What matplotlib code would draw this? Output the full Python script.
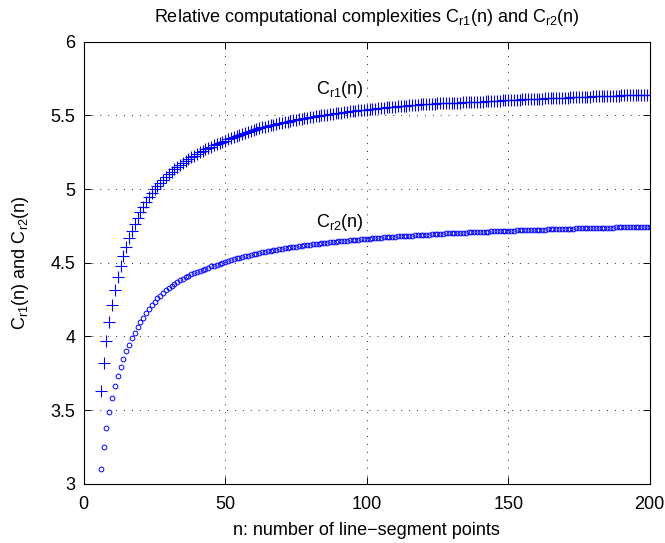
import matplotlib
matplotlib.use("Agg")
import matplotlib.pyplot as plt

plt.rcParams["font.family"] = ["Liberation Sans", "DejaVu Sans"]
plt.rcParams["mathtext.fontset"] = "custom"
plt.rcParams["mathtext.rm"] = "Liberation Sans"
plt.rcParams["mathtext.it"] = "Liberation Sans"
plt.rcParams["lines.scale_dashes"] = False

# n = 6 .. 200
n_points = list(range(6, 201))

cr1 = [
    3.630, 3.820, 3.970, 4.100, 4.215, 4.315, 4.402, 4.478, 4.547, 4.610,   # 6-15
    4.666, 4.717, 4.763, 4.805, 4.847, 4.882, 4.915, 4.950, 4.976, 5.000,   # 16-25
    5.023, 5.044, 5.064, 5.083, 5.101, 5.118, 5.134, 5.150, 5.164, 5.178,   # 26-35
    5.192, 5.204, 5.217, 5.228, 5.240, 5.250, 5.261, 5.270, 5.280, 5.289,   # 36-45
    5.298, 5.306, 5.315, 5.322, 5.330, 5.338, 5.346, 5.354, 5.362, 5.369,   # 46-55
    5.377, 5.384, 5.391, 5.397, 5.404, 5.409, 5.414, 5.419, 5.424, 5.429,   # 56-65
    5.434, 5.438, 5.443, 5.447, 5.451, 5.455, 5.459, 5.463, 5.467, 5.471,   # 66-75
    5.474, 5.478, 5.481, 5.484, 5.488, 5.491, 5.494, 5.497, 5.500, 5.503,   # 76-85
    5.506, 5.509, 5.511, 5.514, 5.517, 5.519, 5.522, 5.524, 5.527, 5.529,   # 86-95
    5.532, 5.534, 5.536, 5.538, 5.540, 5.543, 5.545, 5.547, 5.549, 5.551,   # 96-105
    5.553, 5.555, 5.556, 5.558, 5.560, 5.562, 5.564, 5.565, 5.567, 5.569,   # 106-115
    5.570, 5.572, 5.574, 5.575, 5.577, 5.578, 5.579, 5.580, 5.581, 5.582,   # 116-125
    5.583, 5.584, 5.584, 5.585, 5.586, 5.587, 5.588, 5.588, 5.589, 5.590,   # 126-135
    5.591, 5.591, 5.592, 5.592, 5.593, 5.594, 5.595, 5.597, 5.598, 5.599,   # 136-145
    5.600, 5.601, 5.602, 5.603, 5.604, 5.605, 5.606, 5.607, 5.608, 5.609,   # 146-155
    5.610, 5.611, 5.611, 5.612, 5.613, 5.614, 5.615, 5.616, 5.617, 5.618,   # 156-165
    5.618, 5.619, 5.620, 5.621, 5.622, 5.622, 5.623, 5.624, 5.625, 5.625,   # 166-175
    5.626, 5.627, 5.628, 5.628, 5.629, 5.630, 5.630, 5.631, 5.632, 5.633,   # 176-185
    5.633, 5.634, 5.635, 5.635, 5.636, 5.636, 5.637, 5.638, 5.638, 5.639,   # 186-195
    5.640, 5.640, 5.641, 5.641, 5.642,                                      # 196-200
]

cr2 = [
    3.099, 3.252, 3.380, 3.489, 3.583, 3.662, 3.730, 3.792, 3.848, 3.899,   # 6-15
    3.944, 3.988, 4.027, 4.062, 4.095, 4.125, 4.156, 4.184, 4.211, 4.235,   # 16-25
    4.258, 4.278, 4.297, 4.314, 4.329, 4.344, 4.357, 4.370, 4.381, 4.392,   # 26-35
    4.403, 4.412, 4.422, 4.431, 4.439, 4.447, 4.454, 4.461, 4.468, 4.475,   # 36-45
    4.481, 4.488, 4.495, 4.501, 4.507, 4.513, 4.519, 4.524, 4.530, 4.535,   # 46-55
    4.540, 4.544, 4.549, 4.554, 4.558, 4.562, 4.566, 4.570, 4.574, 4.578,   # 56-65
    4.581, 4.585, 4.588, 4.592, 4.595, 4.598, 4.601, 4.604, 4.607, 4.610,   # 66-75
    4.613, 4.615, 4.618, 4.621, 4.623, 4.626, 4.628, 4.630, 4.633, 4.635,   # 76-85
    4.637, 4.639, 4.641, 4.643, 4.645, 4.647, 4.649, 4.651, 4.653, 4.655,   # 86-95
    4.656, 4.658, 4.660, 4.661, 4.663, 4.665, 4.666, 4.668, 4.669, 4.671,   # 96-105
    4.672, 4.674, 4.675, 4.676, 4.678, 4.679, 4.680, 4.682, 4.683, 4.684,   # 106-115
    4.685, 4.687, 4.688, 4.689, 4.690, 4.691, 4.692, 4.693, 4.695, 4.696,   # 116-125
    4.697, 4.698, 4.699, 4.700, 4.701, 4.702, 4.702, 4.703, 4.704, 4.705,   # 126-135
    4.706, 4.707, 4.708, 4.709, 4.710, 4.710, 4.711, 4.712, 4.713, 4.714,   # 136-145
    4.714, 4.715, 4.716, 4.717, 4.717, 4.718, 4.719, 4.720, 4.720, 4.721,   # 146-155
    4.722, 4.722, 4.723, 4.724, 4.724, 4.725, 4.726, 4.726, 4.727, 4.727,   # 156-165
    4.728, 4.729, 4.729, 4.730, 4.730, 4.731, 4.732, 4.732, 4.733, 4.733,   # 166-175
    4.734, 4.734, 4.735, 4.735, 4.736, 4.736, 4.737, 4.737, 4.738, 4.738,   # 176-185
    4.739, 4.739, 4.740, 4.740, 4.741, 4.741, 4.742, 4.742, 4.743, 4.743,   # 186-195
    4.743, 4.744, 4.744, 4.745, 4.745,                                      # 196-200
]

x_ticks = [0, 50, 100, 150, 200]
y_ticks = [3, 3.5, 4, 4.5, 5, 5.5, 6]
y_tick_labels = ["3", "3.5", "4", "4.5", "5", "5.5", "6"]

label_r1 = r"C$_\mathregular{r1}$(n)"
label_r2 = r"C$_\mathregular{r2}$(n)"

fs = 13

fig = plt.figure(figsize=(6.65, 5.43), dpi=100)
ax = fig.add_axes([0.126, 0.109, 0.851, 0.814])

ax.plot(n_points, cr1, ls="none", marker="+", ms=8, mew=0.8, color="#0000ff")
ax.plot(n_points, cr2, ls="none", marker="o", ms=3.4, mew=0.7, mfc="none", color="#0000ff")

ax.text(82, 5.645, label_r1, fontsize=fs, ha="left", va="baseline")
ax.text(82, 4.745, label_r2, fontsize=fs, ha="left", va="baseline")

ax.set_xlim(0, 200)
ax.set_ylim(3, 6)
ax.set_xticks(x_ticks)
ax.set_yticks(y_ticks)
ax.set_yticklabels(y_tick_labels)
ax.tick_params(direction="in", length=5, width=0.7, labelsize=fs, top=True, right=True, pad=6)
ax.tick_params(axis="x", pad=9)
for sp in ax.spines.values():
    sp.set_linewidth(0.8)
ax.grid(True, color="k", linestyle=(0, (0.7, 5)), linewidth=0.6)

ax.set_title("Relative computational complexities " + label_r1 + " and " + label_r2,
             fontsize=fs, pad=14)
ax.set_xlabel("n: number of line\u2212segment points", fontsize=fs, labelpad=6)
ax.set_ylabel(label_r1 + " and " + label_r2, fontsize=fs, labelpad=14)

fig.savefig("out.png", dpi=100)
plt.close(fig)
